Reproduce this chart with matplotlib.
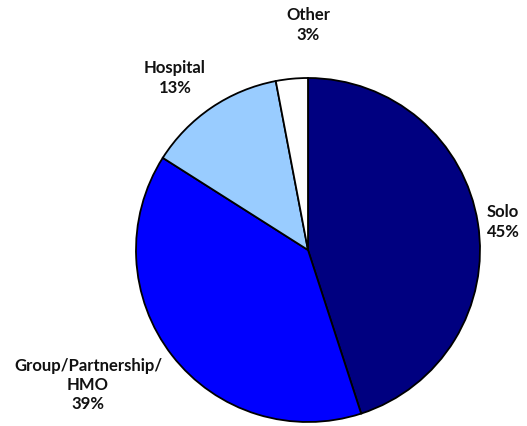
import matplotlib.pyplot as plt

# Practice setting shares (%)
categories = ['Solo', 'Group/Partnership/\nHMO', 'Hospital', 'Other']
shares = [45, 39, 13, 3]
colors = ['#000080', '#0000FF', '#99CCFF', '#FFFFFF']

# label centres in data units (pie radius = 1)
label_pos = [(1.134, 0.163), (-1.279, -0.785), (-0.773, 1.0), (0.0, 1.308)]

plt.rcParams['font.family'] = ['Lato', 'DejaVu Sans']

fig = plt.figure(figsize=(5.27, 4.26), dpi=100)
W, H = 527, 426
cx, cy, r = 308, 250, 172
ax = fig.add_axes([(cx - r) / W, (H - cy - r) / H, 2 * r / W, 2 * r / H])

ax.pie(shares, colors=colors, startangle=90, counterclock=False,
       wedgeprops=dict(edgecolor='black', linewidth=1.3))
ax.set_xlim(-1, 1)
ax.set_ylim(-1, 1)
ax.set_aspect('equal')
ax.axis('off')

for name, v, (x, y) in zip(categories, shares, label_pos):
    ax.text(x, y, f"{name}\n{v}%", ha='center', va='center', fontsize=12,
            fontweight='bold', color='#111111', linespacing=1.25, clip_on=False)

fig.savefig('out.png', dpi=100)
